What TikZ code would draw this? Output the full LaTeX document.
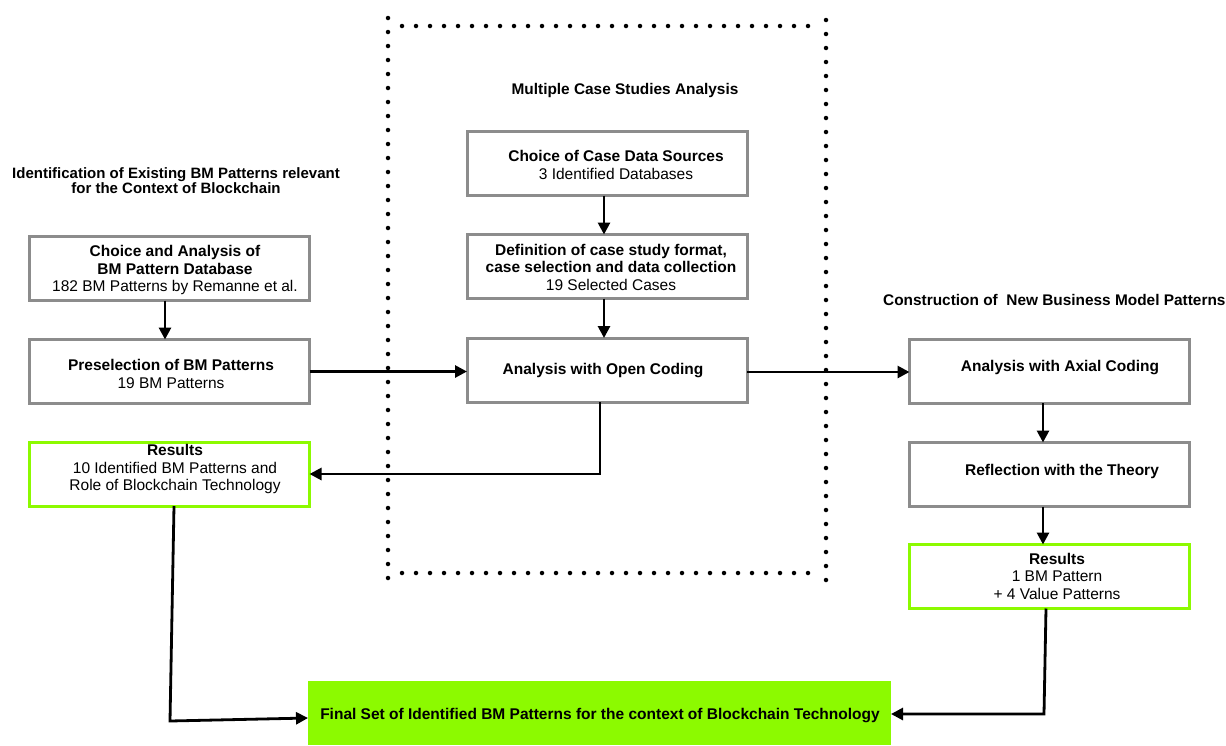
\documentclass[tikz,border=0pt]{standalone}
\usepackage{fontspec}
\setmainfont{Liberation Sans}
\usetikzlibrary{arrows.meta}
\definecolor{boxgray}{HTML}{8C8C8C}
\definecolor{resgreen}{HTML}{8CFA00}
\begin{document}
\begin{tikzpicture}[x=1pt,y=-1pt,
  font=\fontsize{15.5}{17.5}\selectfont,
  box/.style={draw=boxgray,line width=3pt,fill=white,minimum width=280pt,minimum height=64pt,inner sep=0pt,outer sep=0pt},
  resbox/.style={box,draw=resgreen},
  finalbox/.style={fill=resgreen,minimum width=583pt,minimum height=64pt,inner sep=0pt,outer sep=0pt},
  txt/.style={align=center,inner sep=0pt},
  btxt/.style={txt,font=\fontsize{15.5}{17.5}\selectfont\bfseries},
  ttl/.style={align=center,inner sep=0pt,font=\fontsize{15.4}{15.5}\selectfont\bfseries},
  arr/.style={line width=2.8pt,-{Triangle[length=12pt,width=12pt]}},
  dots/.style={line width=4.5pt,line cap=round,dash pattern=on 0pt off 14pt}]
\useasboundingbox (0,0) rectangle (1226,745);

% dotted frame of the case study phase
\draw[dots] (388,18) -- (388,584);
\draw[dots] (826,20) -- (826,586);
\draw[dots] (402,26) -- (814,26);
\draw[dots] (402,573) -- (814,573);

% section titles
\node[ttl,font=\fontsize{15}{15.5}\selectfont\bfseries] (t1) at (176,180.5) {Identification of Existing BM Patterns relevant\\for the Context of Blockchain};
\node[ttl] (t2) at (625,91) {Multiple Case Studies Analysis};
\node[ttl,anchor=west] (t3) at (883,300) {Construction of\ \ New Business Model Patterns};

% left column
\node[box] (A) at (169.5,268.5) {};
\node[box] (B) at (169.5,371.5) {};
\node[resbox] (R1) at (169.5,474) {};
\node[txt] (Atx) at (175,270) {\textbf{Choice and Analysis of}\\\textbf{BM Pattern Database}\\182 BM Patterns by Remanne et al.};
\node[txt] (Btx) at (171,374) {\textbf{Preselection of BM Patterns}\\19 BM Patterns};
\node[txt] (R1tx) at (175,469) {\textbf{Results}\\10 Identified BM Patterns and\\Role of Blockchain Technology};

% middle column
\node[box] (C1) at (607.5,163.5) {};
\node[box] (C2) at (607.5,266.5) {};
\node[box] (C3) at (607,370) {};
\node[txt] (C1tx) at (616,165) {\textbf{Choice of Case Data Sources}\\3 Identified Databases};
\node[txt] (C2tx) at (611,267) {\textbf{Definition of case study format,}\\\textbf{case selection and data collection}\\19 Selected Cases};
\node[btxt] (C3tx) at (603,371) {Analysis with Open Coding};

% right column
\node[box] (D1) at (1049.5,371) {};
\node[box] (D2) at (1049.5,474.5) {};
\node[resbox] (R2) at (1049.5,576.5) {};
\node[btxt] (D1tx) at (1060,368) {Analysis with Axial Coding};
\node[btxt] (D2tx) at (1062,471) {Reflection with the Theory};
\node[txt] (R2tx) at (1057,576) {\textbf{Results}\\1 BM Pattern\\+ 4 Value Patterns};

% final result
\node[finalbox] (F) at (599.5,713) {};
\node[btxt] (Ftx) at (600,716) {Final Set of Identified BM Patterns for the context of Blockchain Technology};

% connectors
\draw[arr] ([xshift=-4.5pt]A.south) -- ([xshift=-4.5pt]B.north);
\draw[arr] ([xshift=-3.5pt]C1.south) -- ([xshift=-3.5pt]C2.north);
\draw[arr] ([xshift=-3.5pt]C2.south) -- ([xshift=-3pt]C3.north);
\draw[arr] (B.east) -- (B.east -| C3.west);
\draw[arr] ([yshift=-2pt]C3.east) -- ([yshift=-2pt]C3.east -| D1.west);
\draw[arr] ([xshift=-7pt]C3.south) |- (R1.east);
\draw[arr] ([xshift=-6.5pt]D1.south) -- ([xshift=-6.5pt]D2.north);
\draw[arr] ([xshift=-6.5pt]D2.south) -- ([xshift=-6.5pt]R2.north);
\coordinate (lc) at (170,721);
\coordinate (rc) at (1044,714);
\draw[arr] ([xshift=4.5pt]R1.south) -- (lc) -- ([yshift=-5pt]F.west);
\draw[arr] ([xshift=-3.5pt]R2.south) -- (rc) -- ([yshift=-1pt]F.east);
\end{tikzpicture}
\end{document}
